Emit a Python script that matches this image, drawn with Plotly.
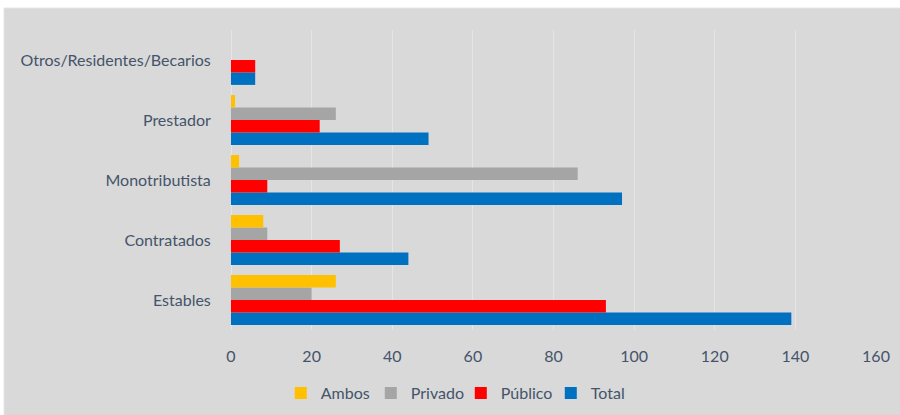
import plotly.graph_objects as go

categories = ["Estables", "Contratados", "Monotributista", "Prestador", "Otros/Residentes/Becarios"]
ambos = [26, 8, 2, 1, 0]
privado = [20, 9, 86, 26, 0]
publico = [93, 27, 9, 22, 6]
total = [139, 44, 97, 49, 6]
x_ticks = [0, 20, 40, 60, 80, 100, 120, 140, 160]

text_color = "#44546A"
font_family = "Lato, Open Sans, sans-serif"

# Plotly stacks grouped horizontal bars bottom-up, so Total goes first
series = [
    ("Total", total, "#0070C0", 4),
    ("Público", publico, "#FF0000", 3),
    ("Privado", privado, "#A5A5A5", 2),
    ("Ambos", ambos, "#FFC000", 1),
]

fig = go.Figure()
for name, vals, color, rank in series:
    fig.add_trace(go.Bar(
        y=categories, x=vals, name=name, orientation="h",
        marker=dict(color=color, line=dict(width=0)),
        legendrank=rank,
    ))

fig.update_layout(
    width=900, height=415,
    barmode="group", bargap=0.17, bargroupgap=0,
    paper_bgcolor="#FFFFFF", plot_bgcolor="rgba(0,0,0,0)",
    margin=dict(l=231, r=24, t=30, b=85, autoexpand=False),
    font=dict(family=font_family, size=16, color=text_color),
    xaxis=dict(
        range=[0, 160], tickvals=x_ticks, ticktext=[str(v) for v in x_ticks],
        showgrid=True, gridcolor="#E4E4EA", gridwidth=1,
        zeroline=True, zerolinecolor="#E4E4EA", zerolinewidth=1,
        showline=False, ticks="outside", ticklen=12, tickcolor="rgba(0,0,0,0)",
        tickfont=dict(size=16, color=text_color),
    ),
    yaxis=dict(
        showgrid=False, showline=False, ticks="outside", ticklen=16,
        tickcolor="rgba(0,0,0,0)",
        tickfont=dict(size=16, color=text_color),
    ),
    legend=dict(
        orientation="h", xref="container", yref="container",
        x=0.512, xanchor="center", y=22 / 415, yanchor="middle",
        font=dict(size=16, color=text_color), bgcolor="rgba(0,0,0,0)",
        itemwidth=30, traceorder="normal", entrywidth=45, entrywidthmode="pixels",
    ),
    shapes=[dict(
        type="rect", xref="paper", yref="paper", layer="below",
        x0=-227 / 645, x1=1 + 30 / 645, y0=-95 / 300, y1=1 + 22 / 300,
        fillcolor="#D9D9D9", line=dict(color="#E6E6EA", width=1),
    )],
)

fig.write_html("out.html")
